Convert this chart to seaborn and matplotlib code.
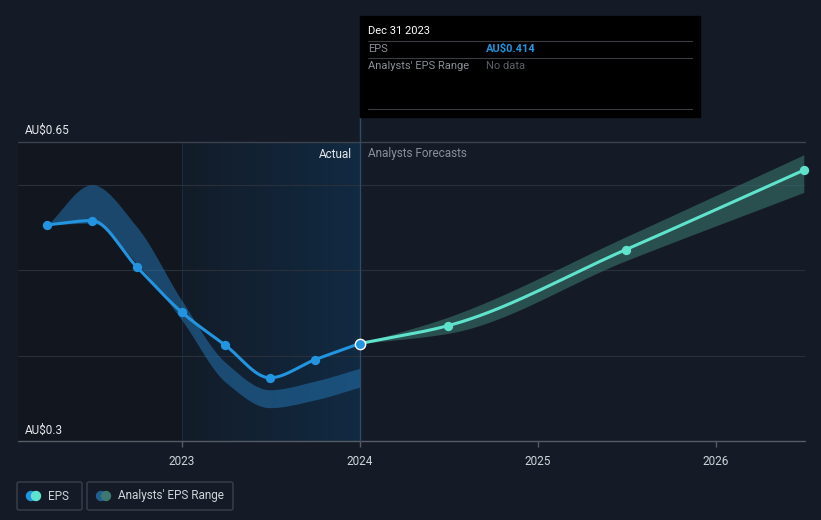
import numpy as np
import pandas as pd
import matplotlib
matplotlib.use("Agg")
import matplotlib.pyplot as plt
import seaborn as sns

# ---------------- data ----------------
hist_dates = ["2022-03-31", "2022-06-30", "2022-09-30", "2022-12-31",
              "2023-03-31", "2023-06-30", "2023-09-30", "2023-12-31"]
hist_eps = [0.553, 0.558, 0.504, 0.451, 0.412, 0.374, 0.395, 0.414]
hist_range_hi = [0.553, 0.600, 0.551, 0.465, 0.392, 0.360, 0.370, 0.385]
hist_range_lo = [0.553, 0.555, 0.508, 0.442, 0.369, 0.339, 0.348, 0.363]

fc_dates = ["2023-12-31", "2024-06-30", "2025-06-30", "2026-06-30"]
fc_eps = [0.414, 0.435, 0.524, 0.617]
fc_range_hi = [0.414, 0.445, 0.539, 0.635]
fc_range_lo = [0.414, 0.426, 0.511, 0.591]

year_ticks = [2023, 2024, 2025, 2026]
y_labels = ["AU$0.3", "AU$0.65"]

# ---------------- helpers ----------------
def dec_year(ds):
    d = pd.to_datetime(pd.Series(ds))
    start = pd.to_datetime(d.dt.year.astype(str) + "-01-01")
    end = pd.to_datetime((d.dt.year + 1).astype(str) + "-01-01")
    return (d.dt.year + (d - start) / (end - start)).to_numpy(dtype=float)

def pchip(x, y, n=200):
    x = np.asarray(x, float); y = np.asarray(y, float)
    h = np.diff(x); delta = np.diff(y) / h
    m = np.zeros_like(y)
    for k in range(1, len(x) - 1):
        if delta[k - 1] * delta[k] > 0:
            w1 = 2 * h[k] + h[k - 1]; w2 = h[k] + 2 * h[k - 1]
            m[k] = (w1 + w2) / (w1 / delta[k - 1] + w2 / delta[k])
    m[0] = delta[0]; m[-1] = delta[-1]
    xs = np.linspace(x[0], x[-1], n)
    idx = np.clip(np.searchsorted(x, xs) - 1, 0, len(h) - 1)
    t = (xs - x[idx]) / h[idx]
    h00 = 2 * t**3 - 3 * t**2 + 1; h10 = t**3 - 2 * t**2 + t
    h01 = -2 * t**3 + 3 * t**2; h11 = t**3 - t**2
    ys = h00 * y[idx] + h10 * h[idx] * m[idx] + h01 * y[idx + 1] + h11 * h[idx] * m[idx + 1]
    return xs, ys

hx = dec_year(hist_dates)
fx = dec_year(fc_dates)

# ---------------- figure ----------------
BG = "#151b26"
sns.set_theme(style="dark")
plt.rcParams["font.family"] = ["Roboto", "DejaVu Sans"]

fig = plt.figure(figsize=(8.21, 5.20), dpi=100, facecolor=BG)
W, H = 821, 520
ax = fig.add_axes([18 / W, (H - 441) / H, (805 - 18) / W, (441 - 142) / H])
ax.set_facecolor(BG)

x0 = 2023 - (182 - 18) / 178.0
x1 = 2023 + (805 - 182) / 178.0
ax.set_xlim(x0, x1)
ax.set_ylim(0.3, 0.65)

# background regions
ax.axvspan(x0, 2023, color="#12161e", zorder=0, lw=0)
grad = np.linspace(0, 1, 256).reshape(1, -1)
cmap = matplotlib.colors.LinearSegmentedColormap.from_list("hl", ["#131c28", "#112a42"])
ax.imshow(grad, extent=[2023, 2024, 0.3, 0.65], aspect="auto", cmap=cmap, zorder=0.5, interpolation="bicubic")
ax.axvline(2023, color="#1d2c3c", lw=0.8, zorder=0.6)

# grid lines
for v in [0.4, 0.5, 0.6]:
    ax.axhline(v, color="#2a303b", lw=0.8, zorder=1)
ax.axhline(0.65, color="#3d434e", lw=1.0, zorder=1, clip_on=False)
ax.axhline(0.3, color="#565c66", lw=1.0, zorder=1, clip_on=False)

# range bands
sx, shi = pchip(hx, hist_range_hi)
_, slo = pchip(hx, hist_range_lo)
ax.fill_between(sx, slo, shi, color="#2371ad", alpha=0.55, lw=0, zorder=2)
fsx, fshi = pchip(fx, fc_range_hi)
_, fslo = pchip(fx, fc_range_lo)
ax.fill_between(fsx, fslo, fshi, color="#3a7a72", alpha=0.55, lw=0, zorder=2)

# EPS lines
lx, ly = pchip(hx, hist_eps)
sns.lineplot(x=lx, y=ly, ax=ax, color="#2394df", lw=2.2, zorder=4, sort=False)
flx, fly = pchip(fx, fc_eps)
sns.lineplot(x=flx, y=fly, ax=ax, color="#5fe3cc", lw=2.2, zorder=4, sort=False)
sns.scatterplot(x=hx[:-1], y=hist_eps[:-1], ax=ax, color="#2394df", s=45, lw=0, zorder=5)
sns.scatterplot(x=fx[1:], y=fc_eps[1:], ax=ax, color="#5fe3cc", s=45, lw=0, zorder=5, clip_on=False)
ax.scatter([hx[-1]], [hist_eps[-1]], s=55, color="#2394df", edgecolor="white", lw=1.0, zorder=6)

# divider at 2024
ax.plot([2024, 2024], [0.3, 0.65 + (142 - 117) / 854.3], color="#2b4c6b", lw=1.0,
        zorder=3, clip_on=False)

# axes styling
for s in ax.spines.values():
    s.set_visible(False)
ax.set_xticks(year_ticks)
ax.set_xticklabels([str(y) for y in year_ticks])
ax.tick_params(axis="x", colors="#565c66", labelcolor="#d0d4da", labelsize=8.5,
               length=4, width=1, pad=6, direction="out", bottom=True)
ax.set_yticks([])
ax.grid(False)
ax.set_xlabel(""); ax.set_ylabel("")

# y labels
fig.text(25 / W, (H - 130) / H, y_labels[1], color="#e6e8ec", fontsize=8.5, va="center")
fig.text(25 / W, (H - 430) / H, y_labels[0], color="#e6e8ec", fontsize=8.5, va="center")

# Actual / Forecast labels
fig.text(352 / W, (H - 154) / H, "Actual", color="#e6e8ec", fontsize=8.5, ha="right", va="center")
fig.text(368 / W, (H - 154) / H, "Analysts Forecasts", color="#8a8f98", fontsize=8.5, ha="left", va="center")

# tooltip
tip = matplotlib.patches.Rectangle((360 / W, (H - 117) / H), 340 / W, 101 / H,
                                   transform=fig.transFigure, color="#000000", zorder=10)
fig.add_artist(tip)
fig.text(368 / W, (H - 31) / H, "Dec 31 2023", color="#ffffff", fontsize=8, va="center", zorder=11)
for yy in [41, 58, 109]:
    fig.add_artist(matplotlib.lines.Line2D([368 / W, 692 / W], [(H - yy) / H] * 2,
                                           transform=fig.transFigure,
                                           color="#3a3d42", lw=0.8, zorder=11))
fig.text(368 / W, (H - 49) / H, "EPS", color="#8a8f98", fontsize=8, va="center", zorder=11)
fig.text(486 / W, (H - 49) / H, "AU$0.414", color="#2394df", fontsize=8, va="center",
         fontweight="bold", zorder=11)
fig.text(368 / W, (H - 66) / H, "Analysts' EPS Range", color="#8a8f98", fontsize=8, va="center", zorder=11)
fig.text(486 / W, (H - 66) / H, "No data", color="#5b5f66", fontsize=8, va="center", zorder=11)

# legend buttons
def button(xl, xr, label, c1, c2, icon_x):
    r = matplotlib.patches.FancyBboxPatch((xl / W, (H - 510) / H), (xr - xl) / W, 28 / H,
                                          boxstyle="round,pad=0,rounding_size=0.003",
                                          transform=fig.transFigure, facecolor=BG,
                                          edgecolor="#3b414c", lw=1.0, zorder=20)
    fig.add_artist(r)
    yc = (H - 496) / H
    fig.add_artist(matplotlib.patches.Ellipse((icon_x / W, yc), 9 / W, 9 / H, color=c1,
                                              transform=fig.transFigure, zorder=21))
    fig.add_artist(matplotlib.patches.Ellipse(((icon_x + 5) / W, yc), 9 / W, 9 / H, color=c2,
                                              transform=fig.transFigure, zorder=22))
    fig.text((icon_x + 17) / W, yc, label, color="#cfd3da", fontsize=8.5, va="center", zorder=23)

button(17, 82, "EPS", "#2394df", "#5fe3cc", 31)
button(87, 233, "Analysts' EPS Range", "#1f5f8f", "#3a7a72", 101)

fig.savefig("out.png", dpi=100, facecolor=BG)
